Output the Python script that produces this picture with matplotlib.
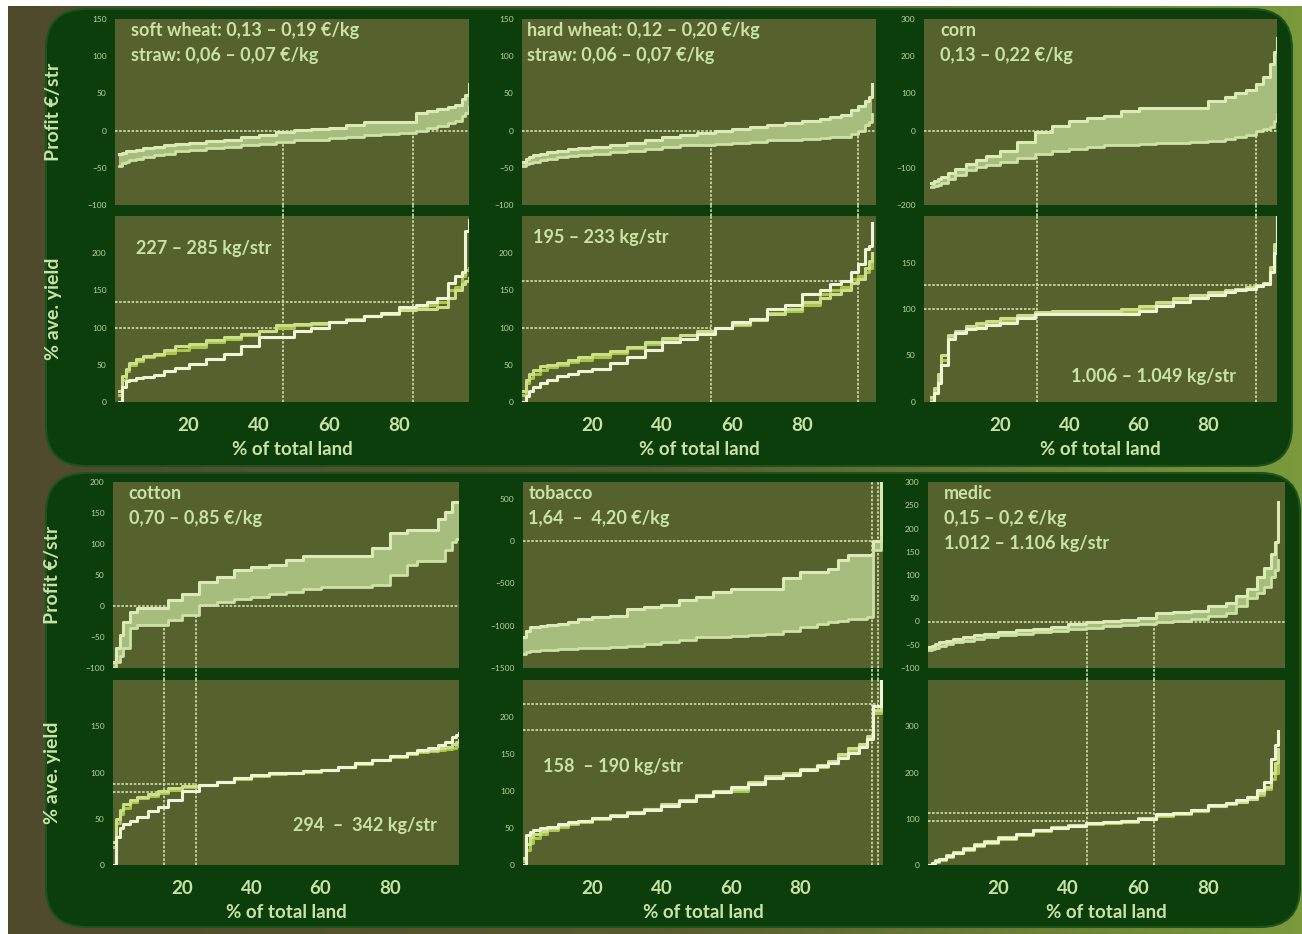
import matplotlib
matplotlib.use("Agg")
import matplotlib.pyplot as plt
import matplotlib.transforms as mtransforms
from matplotlib.patches import FancyBboxPatch, Rectangle
from matplotlib.colors import LinearSegmentedColormap
from matplotlib.lines import Line2D
import numpy as np

plt.rcParams['font.family'] = ['Lato', 'DejaVu Sans']

W, H = 1302, 934

# shared % of total land grid
X = [0, 1, 2, 3, 5, 7, 10, 13, 16, 20, 25, 30, 35, 40, 45, 50, 55, 60, 65, 70,
     75, 80, 85, 88, 91, 94, 96, 98, 99, 100]
X_TOB = [0, 1, 2, 3, 5, 7, 10, 13, 16, 20, 25, 30, 35, 40, 45, 50, 55, 60, 65, 70,
         75, 80, 85, 88, 91, 94, 97, 99.5, 101, 103.5]

# soft wheat
SW_HI = [-32, -30, -28, -27, -26, -24, -22, -20, -18, -16, -14, -12, -9, -6, -2, 1, 2, 4, 8, 12,
         12, 12, 24, 26, 29, 32, 34, 42, 48, 62]
SW_LO = [-47, -44, -42, -40, -38, -36, -33, -31, -28, -26, -24, -22, -20, -18, -15, -13, -12, -10, -8, -6,
         -5, -3, 0, 3, 6, 10, 13, 20, 24, 32]
SW_Y1 = [0, 20, 28, 30, 32, 34, 36, 42, 46, 51, 58, 65, 75, 87, 88, 95, 100, 107, 110, 115,
         120, 128, 130, 135, 140, 160, 170, 175, 230, 245]
SW_Y2 = [15, 35, 45, 52, 58, 62, 65, 70, 75, 78, 84, 88, 92, 96, 103, 105, 106, 107, 110, 115,
         118, 124, 125, 125, 128, 140, 150, 158, 162, 166]
SW_Y3 = [10, 30, 42, 50, 55, 60, 63, 66, 70, 74, 80, 85, 90, 95, 100, 104, 105, 108, 112, 116,
         120, 126, 128, 130, 135, 150, 155, 170, 178, 180]

# hard wheat
HW_HI = [-42, -38, -35, -33, -31, -29, -27, -25, -24, -22, -19, -16, -12, -9, -6, -3, 0, 2, 5, 7,
         10, 13, 16, 18, 21, 28, 33, 40, 45, 62]
HW_LO = [-47, -45, -43, -42, -40, -38, -36, -34, -33, -31, -29, -27, -25, -22, -20, -19, -18, -16, -15, -13,
         -12, -11, -10, -9, -8, -4, 0, 7, 12, 22]
HW_Y1 = [0, 8, 15, 20, 25, 30, 35, 38, 42, 45, 52, 60, 70, 80, 85, 92, 100, 107, 112, 125,
         130, 145, 150, 158, 162, 175, 185, 205, 210, 240]
HW_Y2 = [15, 30, 38, 43, 48, 50, 53, 57, 60, 64, 68, 74, 80, 86, 90, 95, 100, 105, 110, 118,
         125, 135, 140, 145, 150, 160, 165, 180, 190, 200]
HW_Y3 = [10, 25, 32, 38, 43, 47, 50, 54, 57, 60, 66, 72, 78, 84, 90, 96, 100, 103, 112, 120,
         122, 130, 145, 150, 155, 165, 170, 175, 180, 190]

# corn
CO_HI = [-140, -135, -130, -125, -115, -103, -89, -78, -68, -54, -30, -4, 13, 27, 33, 40, 54, 62, 62, 62,
         62, 80, 90, 100, 110, 125, 143, 179, 210, 250]
CO_LO = [-152, -148, -145, -140, -130, -120, -107, -98, -92, -85, -74, -62, -55, -49, -44, -40, -38, -36, -34, -32,
         -31, -27, -22, -18, -12, 0, 3, 10, 25, 45]
CO_Y1 = [0, 10, 20, 40, 68, 74, 78, 80, 83, 85, 90, 95, 95, 95, 95, 95, 95, 98, 103, 108,
         112, 115, 118, 120, 122, 125, 127, 140, 160, 200]
CO_Y2 = [5, 15, 30, 50, 72, 76, 82, 85, 87, 90, 94, 97, 98, 98, 98, 98, 100, 103, 108, 112,
         115, 118, 120, 122, 124, 126, 128, 145, 170, 200]
CO_Y3 = [3, 12, 25, 45, 70, 75, 80, 83, 85, 88, 92, 96, 97, 97, 97, 97, 98, 101, 106, 110,
         113, 117, 119, 121, 123, 125, 127, 142, 165, 198]

# cotton
CT_HI = [-90, -68, -47, -25, -9, -4, -4, -4, 10, 20, 39, 47, 58, 63, 66, 74, 80, 80, 80, 80,
         93, 117, 123, 123, 123, 140, 152, 168, 168, 168]
CT_LO = [-100, -90, -80, -68, -36, -31, -31, -31, -22, -15, 2, 7, 11, 15, 19, 23, 27, 31, 31, 31,
         34, 50, 66, 72, 72, 72, 90, 104, 108, 108]
CT_Y1 = [0, 30, 40, 44, 48, 52, 58, 63, 70, 80, 87, 90, 94, 97, 99, 100, 102, 103, 106, 110,
         114, 118, 121, 124, 126, 130, 133, 138, 141, 143]
CT_Y2 = [25, 50, 60, 66, 70, 74, 77, 80, 83, 85, 87, 90, 94, 97, 99, 100, 102, 103, 106, 110,
         114, 118, 121, 123, 124, 126, 128, 131, 133, 135]
CT_Y3 = [20, 45, 55, 62, 68, 72, 75, 78, 81, 84, 87, 90, 93, 96, 98, 100, 101, 103, 106, 109,
         113, 117, 120, 122, 123, 124, 125, 127, 129, 130]

# tobacco
TB_HI = [-1137, -1060, -1020, -1010, -1000, -990, -980, -950, -920, -900, -880, -800, -780, -760, -700, -660, -600, -560, -560, -560,
         -440, -365, -365, -325, -220, -165, -165, -165, 0, 700]
TB_LO = [-1337, -1310, -1300, -1295, -1290, -1285, -1280, -1270, -1265, -1258, -1248, -1238, -1220, -1198, -1170, -1139, -1130, -1119, -1110, -1099,
         -1060, -1020, -980, -960, -940, -925, -920, -900, -100, 50]
TB_Y1 = [0, 40, 45, 47, 50, 52, 55, 58, 60, 63, 66, 70, 75, 80, 86, 93, 98, 105, 110, 118,
         122, 128, 134, 138, 145, 152, 160, 170, 215, 250]
TB_Y2 = [10, 28, 38, 42, 46, 50, 54, 57, 60, 63, 67, 72, 76, 82, 88, 95, 100, 103, 112, 120,
         124, 130, 135, 140, 150, 158, 163, 175, 210, 245]
TB_Y3 = [5, 20, 30, 36, 42, 47, 52, 55, 58, 62, 66, 71, 76, 81, 87, 94, 99, 100, 110, 117,
         123, 128, 133, 138, 147, 155, 162, 172, 205, 240]

# medic
MD_HI = [-55, -52, -48, -45, -41, -38, -34, -30, -27, -23, -19, -16, -11, -6, 0, 1, 4, 8, 19, 21,
         23, 33, 40, 54, 70, 95, 115, 146, 170, 258]
MD_LO = [-62, -59, -56, -53, -48, -45, -41, -37, -33, -30, -26, -23, -20, -16, -13, -9, -8, -6, 0, 1,
         5, 12, 19, 33, 50, 62, 75, 95, 110, 132]
MD_Y1 = [0, 4, 8, 12, 20, 26, 35, 43, 50, 58, 67, 75, 80, 85, 90, 92, 95, 100, 110, 112,
         120, 130, 135, 140, 148, 162, 180, 230, 260, 290]
MD_Y2 = [0, 5, 10, 14, 22, 28, 37, 45, 52, 60, 68, 76, 82, 87, 90, 93, 96, 102, 108, 112,
         118, 128, 133, 137, 143, 155, 168, 200, 220, 250]
MD_Y3 = [0, 3, 7, 11, 18, 25, 33, 41, 48, 56, 65, 73, 79, 84, 88, 91, 94, 99, 107, 111,
         117, 127, 132, 136, 142, 152, 165, 185, 200, 215]

# break-even markers: (% of land, yield level)
SW_REF = [(47, 100), (84, 135)]
HW_REF = [(54, 100), (96, 163)]
CO_REF = [(30.6, 100), (94, 126)]
CT_REF = [(14.8, 78.6), (24, 87.5)]
TB_REF = [(100.7, 183), (102.6, 218)]
MD_REF = [(45.4, 96), (64.6, 112)]

crops = [
    dict(x=X, hi=SW_HI, lo=SW_LO, ys=[SW_Y3, SW_Y2, SW_Y1], ref=SW_REF, vtop=0,
         plim=(-100, 150), pt=[-100, -50, 0, 50, 100, 150], ylim=(0, 250), yt=[0, 50, 100, 150, 200],
         xlim=(-1, 100), ptxt=["soft wheat: 0,13 – 0,19 €/kg", "straw: 0,06 – 0,07 €/kg"],
         ytxt="227 – 285 kg/str", ypos=(0.06, 0.87, 'left', 'top')),
    dict(x=X, hi=HW_HI, lo=HW_LO, ys=[HW_Y3, HW_Y2, HW_Y1], ref=HW_REF, vtop=0,
         plim=(-100, 150), pt=[-100, -50, 0, 50, 100, 150], ylim=(0, 250), yt=[0, 50, 100, 150, 200],
         xlim=(0, 101), ptxt=["hard wheat: 0,12 – 0,20 €/kg", "straw: 0,06 – 0,07 €/kg"],
         ytxt="195 – 233 kg/str", ypos=(0.03, 0.93, 'left', 'top')),
    dict(x=X, hi=CO_HI, lo=CO_LO, ys=[CO_Y3, CO_Y2, CO_Y1], ref=CO_REF, vtop=0,
         plim=(-200, 300), pt=[-200, -100, 0, 100, 200, 300], ylim=(0, 200), yt=[0, 50, 100, 150],
         xlim=(-2, 100), ptxt=["corn", "0,13 – 0,22 €/kg"],
         ytxt="1.006 – 1.049 kg/str", ypos=(0.885, 0.135, 'right', 'center')),
    dict(x=X, hi=CT_HI, lo=CT_LO, ys=[CT_Y3, CT_Y2, CT_Y1], ref=CT_REF, vtop=0,
         plim=(-100, 200), pt=[-100, -50, 0, 50, 100, 150, 200], ylim=(0, 200), yt=[0, 50, 100, 150],
         xlim=(0, 100), ptxt=["cotton", "0,70 – 0,85 €/kg"],
         ytxt="294  –  342 kg/str", ypos=(0.935, 0.215, 'right', 'center')),
    dict(x=X_TOB, hi=TB_HI, lo=TB_LO, ys=[TB_Y3, TB_Y2, TB_Y1], ref=TB_REF, vtop=700,
         plim=(-1500, 700), pt=[-1500, -1000, -500, 0, 500], ylim=(0, 250), yt=[0, 50, 100, 150, 200],
         xlim=(0, 104), ptxt=["tobacco", "1,64  –  4,20 €/kg"],
         ytxt="158  – 190 kg/str", ypos=(0.055, 0.53, 'left', 'center')),
    dict(x=X, hi=MD_HI, lo=MD_LO, ys=[MD_Y3, MD_Y2, MD_Y1], ref=MD_REF, vtop=0,
         plim=(-100, 300), pt=[-100, -50, 0, 50, 100, 150, 200, 250, 300], ylim=(0, 400), yt=[0, 100, 200, 300],
         xlim=(0, 102), ptxt=["medic", "0,15 – 0,2 €/kg", "1.012 – 1.106 kg/str"],
         ytxt=None, ypos=None),
]

# pixel boxes: (x0, x1) per column, (top, bottom) for profit / yield rows
COLS = [[(115, 469), (522, 876), (924, 1277)],
        [(113, 459), (523, 883), (928, 1285)]]
ROWS = [((19, 205), (216, 402)),
        ((482, 668), (680, 865))]

DARK = '#0c3e0c'
FACE = '#56622d'
TXT = '#c9e3a6'
TICK = '#b7d596'
REF = '#d0e2ae'
YCOLS = ['#a9c54a', '#c9df8a', '#eef4d6']


def box(x0, x1, y0, y1):
    return [x0 / W, 1 - y1 / H, (x1 - x0) / W, (y1 - y0) / H]


fig = plt.figure(figsize=(W / 100, H / 100), dpi=100)

# background: olive-brown to green, with dark rounded panels
bg = fig.add_axes([0, 0, 1, 1], zorder=-10)
bg.set_xlim(0, W)
bg.set_ylim(H, 0)
bg.axis('off')
grad = LinearSegmentedColormap.from_list('bg', ['#4f4a2c', '#575a2f', '#7a9a3c'])
bg.imshow(np.linspace(0, 1, 256).reshape(1, -1), cmap=grad, aspect='auto',
          extent=(0, W, H, 0))
bg.add_patch(FancyBboxPatch((46, 9), 1246, 457, boxstyle='round,pad=0,rounding_size=40',
                            fc=DARK, ec='#1d521d', lw=1.5))
bg.add_patch(FancyBboxPatch((46, 473), 1254, 454, boxstyle='round,pad=0,rounding_size=40',
                            fc=DARK, ec='#1d521d', lw=1.5))
bg.add_patch(Rectangle((0, 0), W, 6, fc='white', ec='none'))
bg.add_patch(Rectangle((0, 0), 8, H, fc='white', ec='none'))

for i, c in enumerate(crops):
    r, k = divmod(i, 3)
    x0, x1 = COLS[r][k]
    (pt0, pb0), (yt0, yb0) = ROWS[r]
    ap = fig.add_axes(box(x0, x1, pt0, pb0))
    ay = fig.add_axes(box(x0, x1, yt0, yb0))

    for ax in (ap, ay):
        ax.set_facecolor(FACE)
        for s in ax.spines.values():
            s.set_visible(False)
        ax.set_xlim(*c['xlim'])
        ax.tick_params(axis='y', length=0, labelsize=6, labelcolor=TICK, pad=6)

    # profit band
    ap.fill_between(c['x'], c['lo'], c['hi'], step='post', color='#a6bd7e', zorder=3, lw=0)
    ap.plot(c['x'], c['hi'], drawstyle='steps-post', color='#dcebb6', lw=2.2, zorder=4)
    ap.plot(c['x'], c['lo'], drawstyle='steps-post', color='#cfe2a6', lw=2.0, zorder=4)
    ap.axhline(0, color=REF, lw=1.2, ls=(0, (1.5, 1)), zorder=2)
    ap.set_ylim(*c['plim'])
    ap.set_yticks(c['pt'])
    ap.set_xticks([])

    # yield curves
    for yv, col in zip(c['ys'], YCOLS):
        ay.plot(c['x'], yv, drawstyle='steps-post', color=col, lw=2.2, zorder=4)
    ay.set_ylim(*c['ylim'])
    ay.set_yticks(c['yt'])
    ay.set_xticks([20, 40, 60, 80])
    ay.tick_params(axis='x', length=0, labelsize=13.5, labelcolor=TXT, pad=11)
    for lab in ay.get_xticklabels():
        lab.set_fontweight('bold')
    ay.set_xlabel('% of total land', fontsize=13.5, fontweight='bold', color=TXT)
    ay.xaxis.set_label_coords(0.5, -0.21)
    ay.xaxis.label.set_va('top')

    # break-even reference lines
    gap = mtransforms.blended_transform_factory(ay.transData, fig.transFigure)
    for xr, yr in c['ref']:
        ay.plot([c['xlim'][0], xr], [yr, yr], color=REF, lw=1.2, ls=(0, (1.5, 1)), zorder=2)
        ay.plot([xr, xr], [0, c['ylim'][1]], color=REF, lw=1.2, ls=(0, (1.5, 1)), zorder=2)
        ap.plot([xr, xr], [c['plim'][0], c['vtop']], color=REF, lw=1.2, ls=(0, (1.5, 1)), zorder=2)
        fig.add_artist(Line2D([xr, xr], [1 - yt0 / H, 1 - pb0 / H], transform=gap,
                              color=REF, lw=1.2, ls=(0, (1.5, 1))))

    # annotations
    for j, t in enumerate(c['ptxt']):
        ap.text(0.045 if k != 1 else 0.015, 0.985 - j * 0.135, t, transform=ap.transAxes,
                fontsize=13, fontweight='bold', color=TXT, va='top', ha='left', zorder=6)
    if c['ytxt']:
        px, py, ha, va = c['ypos']
        ay.text(px, py, c['ytxt'], transform=ay.transAxes, fontsize=13, fontweight='bold',
                color=TXT, ha=ha, va=va, zorder=6)

    if k == 0:
        ap.set_ylabel('Profit €/str', fontsize=14, fontweight='bold', color=TXT)
        ap.yaxis.set_label_coords(-0.15, 0.5)
        ay.set_ylabel('% ave. yield', fontsize=14, fontweight='bold', color=TXT)
        ay.yaxis.set_label_coords(-0.15, 0.5)

fig.savefig('out.png', dpi=100, facecolor=fig.get_facecolor())
